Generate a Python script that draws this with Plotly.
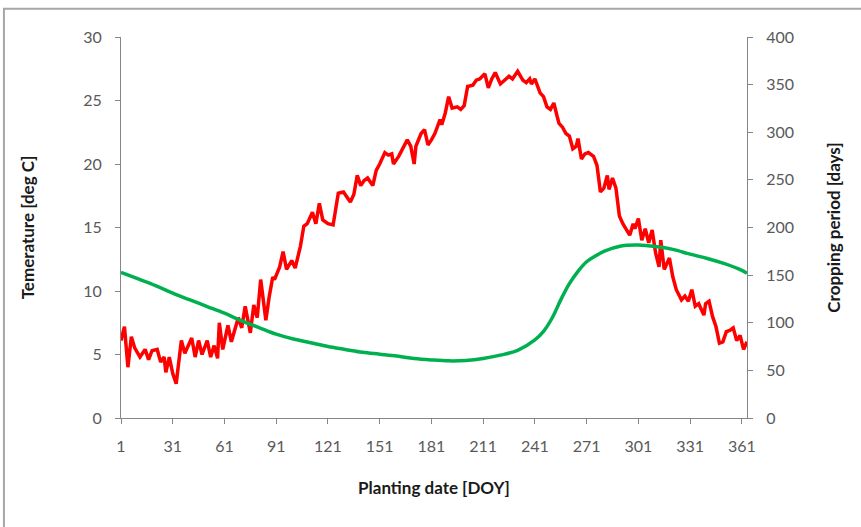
"""
Planting date chart: daily temperature and cropping period
"""

import plotly.graph_objects as go

# Temperature [deg C]
temp_days = [
    1, 3, 5, 7, 9, 12, 15, 17, 19, 22, 24, 26, 27, 29, 31, 33, 36, 38, 42, 44,
    46, 48, 51, 53, 55, 57, 58, 60, 63, 65, 69, 71, 73, 76, 78, 80, 82, 85, 87, 89,
    90, 93, 95, 97, 100, 102, 105, 107, 109, 112, 114, 116, 118, 121, 124, 127, 130, 132, 134, 136,
    138, 140, 142, 144, 147, 149, 151, 154, 156, 158, 159, 162, 165, 167, 169, 171, 172, 175, 177, 179,
    181, 183, 186, 187, 189, 191, 193, 196, 198, 200, 202, 205, 207, 209, 212, 214, 216, 218, 221, 224,
    226, 228, 231, 234, 236, 238, 239, 241, 244, 246, 248, 250, 252, 254, 255, 257, 259, 261, 263, 265,
    266, 268, 270, 272, 275, 277, 279, 281, 283, 284, 286, 288, 290, 292, 294, 296, 298, 299, 301, 303,
    305, 307, 309, 311, 313, 314, 316, 319, 321, 323, 326, 328, 330, 332, 334, 336, 339, 340, 342, 344,
    346, 348, 350, 352, 354, 356, 358, 360, 362, 364,
]
temp_vals = [
    6.1, 7.2, 4.0, 6.4, 5.5, 4.8, 5.4, 4.6, 5.3, 5.4, 4.4, 4.8, 3.6, 4.8, 3.5, 2.7, 6.1, 5.1, 6.3, 4.8,
    6.1, 5.0, 6.1, 4.8, 5.7, 4.7, 7.5, 5.4, 7.3, 6.0, 7.9, 7.1, 8.8, 6.7, 8.9, 7.9, 10.9, 7.7, 9.6, 11.1,
    10.9, 11.9, 13.1, 11.7, 12.4, 11.8, 13.5, 15.1, 15.3, 16.2, 15.3, 16.9, 15.6, 15.3, 15.2, 17.7, 17.8, 17.4, 17.0, 17.6,
    19.1, 18.3, 18.7, 18.9, 18.3, 19.5, 20.0, 20.9, 20.7, 20.8, 20.0, 20.6, 21.4, 21.9, 21.4, 20.0, 21.4, 22.4, 22.7, 21.5,
    21.9, 22.4, 23.5, 23.1, 24.0, 25.3, 24.4, 24.5, 24.3, 24.6, 26.1, 26.2, 26.6, 26.7, 27.1, 26.0, 26.7, 27.2, 26.3, 26.7,
    26.9, 26.7, 27.3, 26.6, 26.4, 26.7, 26.3, 26.7, 25.6, 25.3, 24.5, 24.3, 24.8, 23.7, 23.2, 22.9, 22.4, 22.2, 21.2, 21.4,
    22.0, 20.4, 20.8, 20.9, 20.6, 19.9, 17.8, 18.1, 19.1, 18.0, 18.9, 18.1, 15.9, 15.3, 14.8, 14.4, 15.3, 14.9, 15.7, 14.0,
    14.9, 13.8, 14.8, 13.0, 11.9, 14.0, 11.7, 12.6, 11.1, 10.1, 9.3, 9.6, 9.2, 10.1, 8.8, 9.0, 8.1, 9.0, 9.2, 8.0,
    7.2, 5.9, 6.0, 6.8, 6.9, 7.1, 6.1, 6.5, 5.4, 6.0,
]

# Cropping period [days]
crop_days = [
    1, 11, 21, 31, 41, 51, 61, 71, 81, 91, 101, 111, 121, 131, 141, 151, 161, 171, 181, 191, 201,
    211, 221, 231, 241, 246, 251, 256, 261, 266, 271, 276, 281, 291, 301, 311, 321, 331, 341, 351, 361, 364,
]
crop_vals = [
    153, 146, 139, 131, 124, 117, 110, 102, 95, 88, 83, 79, 75, 72, 69, 67, 65, 62.5, 61, 60, 60.4,
    62.5, 66, 71, 82, 91, 105, 124, 141, 154, 164, 170, 175, 180.6, 181.6, 180, 177, 172, 167.5, 162, 155, 152,
]

x_ticks = list(range(1, 362, 30))

FONT = "Lato, Carlito, Calibri, sans-serif"
AXIS_GREY = "#868686"
LABEL_GREY = "#595959"
TITLE_COLOR = "#1a1a1a"

fig = go.Figure()
fig.add_trace(
    go.Scatter(
        x=temp_days,
        y=temp_vals,
        mode="lines",
        name="Temperature",
        line=dict(color="#FF0000", width=3.5),
    )
)
fig.add_trace(
    go.Scatter(
        x=crop_days,
        y=crop_vals,
        mode="lines",
        name="Cropping period",
        yaxis="y2",
        line=dict(color="#00B050", width=3.5, shape="spline", smoothing=1.0),
    )
)

# Excel style chart border, partly cut off by the picture edge
fig.add_shape(
    type="rect",
    xref="paper",
    yref="paper",
    x0=-0.187,
    x1=1.4,
    y0=-0.6,
    y1=1.074,
    line=dict(color="#a6a6a6", width=2),
    layer="below",
)

fig.update_layout(
    width=861,
    height=527,
    margin=dict(l=121, r=114, t=37, b=109),
    paper_bgcolor="white",
    plot_bgcolor="white",
    showlegend=False,
    font=dict(family=FONT, size=16, color=LABEL_GREY),
    xaxis=dict(
        range=[1, 364],
        tickvals=x_ticks,
        ticktext=[str(v) for v in x_ticks],
        showgrid=False,
        zeroline=False,
        showline=True,
        linecolor=AXIS_GREY,
        linewidth=1,
        ticks="outside",
        ticklen=5,
        tickcolor=AXIS_GREY,
        ticklabelstandoff=9,
        automargin=False,
        tickfont=dict(family=FONT, size=16, color=LABEL_GREY),
        title=dict(
            text="<b>Planting date [DOY]</b>",
            font=dict(family=FONT, size=17, color=TITLE_COLOR),
            standoff=27,
        ),
    ),
    yaxis=dict(
        range=[0, 30],
        dtick=5,
        showgrid=False,
        zeroline=False,
        showline=True,
        linecolor=AXIS_GREY,
        linewidth=1,
        ticks="outside",
        ticklen=5,
        tickcolor=AXIS_GREY,
        ticklabelstandoff=10,
        automargin=False,
        tickfont=dict(family=FONT, size=16, color=LABEL_GREY),
        title=dict(
            text="<b>Temerature [deg C]</b>",
            font=dict(family=FONT, size=17, color=TITLE_COLOR),
            standoff=44,
        ),
    ),
    yaxis2=dict(
        range=[0, 400],
        dtick=50,
        overlaying="y",
        side="right",
        showgrid=False,
        zeroline=False,
        showline=True,
        linecolor=AXIS_GREY,
        linewidth=1,
        ticks="outside",
        ticklen=5,
        tickcolor=AXIS_GREY,
        ticklabelstandoff=10,
        automargin=False,
        tickfont=dict(family=FONT, size=16, color=LABEL_GREY),
        title=dict(
            text="<b>Cropping period [days]</b>",
            font=dict(family=FONT, size=17, color=TITLE_COLOR),
            standoff=35,
        ),
    ),
)

# drop the browser's default body margin so the figure sits at the page corner
fig.write_html(
    "out.html",
    config={"displayModeBar": False},
    post_script="document.body.style.margin = '0';",
)
